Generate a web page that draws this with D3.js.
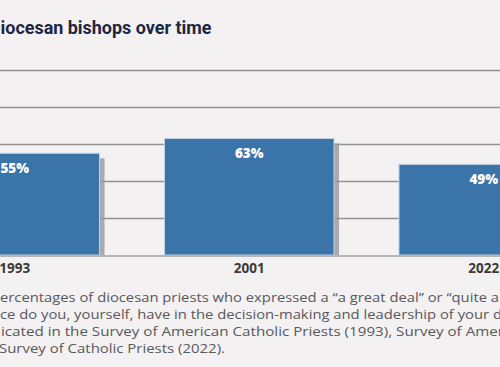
<!DOCTYPE html>
<html>
<head>
<meta charset="utf-8">
<script src="https://cdn.jsdelivr.net/npm/d3@7"></script>
<style>
  html, body { margin: 0; padding: 0; background: #f3f1f2; }
  svg { display: block; }
</style>
</head>
<body>
<div id="chart"></div>
<script>
// ---- data ----
const years = ["1993", "2001", "2022"];
const values = [55, 63, 49];
const gridTicks = [0, 20, 40, 60, 80, 100];
const titleText = "iocesan bishops over time";
const noteLines = [
  "ercentages of diocesan priests who expressed a \u201ca great deal\u201d or \u201cquite a",
  "ce do you, yourself, have in the decision-making and leadership of your d",
  "icated in the Survey of American Catholic Priests (1993), Survey of Amer",
  "Survey of Catholic Priests (2022)."
];

// ---- layout ----
const W = 500, H = 367;
const svg = d3.select("#chart").append("svg").attr("width", W).attr("height", H);
svg.append("rect").attr("width", W).attr("height", H).attr("fill", "#f3f1f2");

const x = d3.scaleBand().domain(years).range([-70, 568.5]).paddingInner(0.277).paddingOuter(0);
const y = d3.scaleLinear().domain([0, 100]).range([255, 70]);

// title
svg.append("text")
  .attr("x", 0.5).attr("y", 34)
  .attr("textLength", 211).attr("lengthAdjust", "spacingAndGlyphs")
  .attr("font-family", "Roboto, 'Open Sans', sans-serif")
  .attr("font-weight", 700).attr("font-size", 18.5)
  .attr("fill", "#1d2742")
  .text(titleText);

const data = years.map((yr, i) => ({ year: yr, value: values[i] }));

// shadows
svg.append("g").selectAll("rect").data(data).join("rect")
  .attr("x", d => x(d.year) + 5)
  .attr("y", d => y(d.value) + 5)
  .attr("width", x.bandwidth())
  .attr("height", d => Math.max(0, y(0) - y(d.value) - 5))
  .attr("fill", "#aaa9b0");

// gridlines
const yAxis = d3.axisLeft(y).tickValues(gridTicks.slice(1)).tickSize(-W).tickFormat("");
const gAxis = svg.append("g").call(yAxis);
gAxis.select(".domain").remove();
gAxis.selectAll(".tick line").attr("stroke", "#939393").attr("stroke-width", 1.6);

// bars
svg.append("g").selectAll("rect").data(data).join("rect")
  .attr("x", d => x(d.year))
  .attr("y", d => y(d.value))
  .attr("width", x.bandwidth())
  .attr("height", d => y(0) - y(d.value))
  .attr("fill", "#3b74a9")
  .attr("stroke", "#c3d2e2").attr("stroke-width", 1);

// baseline
svg.append("line")
  .attr("x1", 0).attr("x2", W)
  .attr("y1", y(0) + 1).attr("y2", y(0) + 1)
  .attr("stroke", "#b6b5b8").attr("stroke-width", 2);

// value labels
svg.append("g").selectAll("text").data(data).join("text")
  .attr("x", d => x(d.year) + x.bandwidth() / 2)
  .attr("y", d => y(d.value) + 19.5)
  .attr("text-anchor", "middle")
  .attr("font-family", "'Open Sans', sans-serif")
  .attr("font-weight", 800).attr("font-size", 13.5)
  .attr("fill", "#ffffff")
  .text(d => d.value + "%");

// x axis labels
const xAxis = d3.axisBottom(x).tickSize(0).tickPadding(0);
const gx = svg.append("g").attr("transform", "translate(0,263)").call(xAxis);
gx.select(".domain").remove();
gx.selectAll(".tick text")
  .attr("dy", 0).attr("y", 10)
  .attr("font-family", "'Open Sans', sans-serif")
  .attr("font-weight", 700).attr("font-size", 13.5)
  .attr("fill", "#3a3a3c");

// note lines
const noteX = [0, 0, 1, -1];
const noteLen = [499, 502, 503, 226];
svg.append("g").selectAll("text").data(noteLines).join("text")
  .attr("x", (d, i) => noteX[i])
  .attr("y", (d, i) => 302 + i * 16.9)
  .attr("textLength", (d, i) => noteLen[i])
  .attr("lengthAdjust", "spacingAndGlyphs")
  .attr("font-family", "'Open Sans', sans-serif")
  .attr("font-size", 13.3)
  .attr("fill", "#58585b")
  .text(d => d);
</script>
</body>
</html>
